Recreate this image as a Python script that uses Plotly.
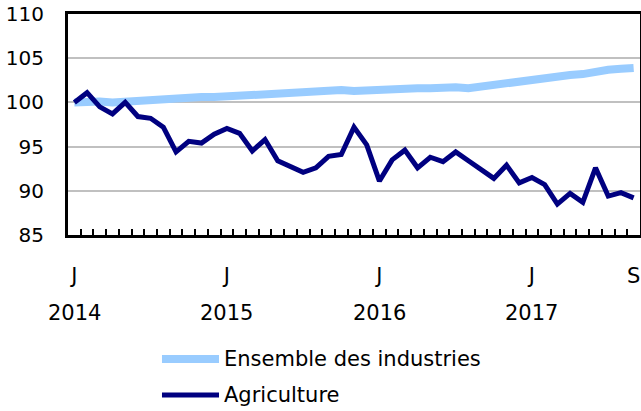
import plotly.graph_objects as go

months = list(range(45))  # Jan 2014 .. Sep 2017
ensemble = [100.0, 100.1, 100.1, 100.0, 100.1, 100.3, 100.3, 100.3, 100.5, 100.7,
            100.6, 100.6, 100.7, 100.8, 100.8, 100.8, 101.0, 101.1, 101.2, 101.3,
            101.3, 101.4, 101.3, 101.4, 101.4, 101.4, 101.5, 101.6, 101.6, 101.7,
            101.7, 101.6, 101.8, 102.1, 102.3, 102.3, 102.6, 102.9, 103.0, 103.1,
            103.2, 103.5, 103.7, 103.8, 103.9]
agriculture = [100.0, 101.1, 99.5, 98.7, 100.0, 98.4, 98.2, 97.2, 94.4, 95.6,
               95.4, 96.4, 97.05, 96.5, 94.5, 95.8, 93.4, 92.7, 92.1, 92.6,
               93.9, 94.1, 97.2, 95.2, 91.1, 93.5, 94.6, 92.6, 93.8, 93.3,
               94.4, 93.4, 92.4, 91.4, 92.9, 90.9, 91.5, 90.7, 88.5, 89.7,
               88.7, 92.6, 89.4, 89.8, 89.2]
month_tick_pos = [0, 12, 24, 36, 44]
month_tick_text = ["J", "J", "J", "J", "S"]
year_pos = [0, 12, 24, 36]
year_text = ["2014", "2015", "2016", "2017"]
series_names = ["Ensemble des industries", "Agriculture"]
series_colors = ["#99CCFF", "#000080"]
series_widths = [8, 5]

FONT = "DejaVu Sans"
FS = 21
fig = go.Figure()
for name, vals, col, w in zip(series_names, [ensemble, agriculture], series_colors, series_widths):
    fig.add_trace(go.Scatter(x=months, y=vals, mode="lines", name=name,
                             line=dict(color=col, width=w), showlegend=False))

# manual legend
leg_y = [-0.561, -0.724]
for name, col, w, yy in zip(series_names, series_colors, series_widths, leg_y):
    fig.add_shape(type="line", xref="paper", yref="paper", x0=0.1643, x1=0.264, y0=yy, y1=yy,
                  line=dict(color=col, width=w))
    fig.add_annotation(xref="paper", yref="paper", x=0.2692, y=yy, text=name, showarrow=False,
                       xanchor="left", yanchor="middle", font=dict(family=FONT, size=FS, color="#000000"))

for p, t in zip(year_pos, year_text):
    fig.add_annotation(xref="x", yref="paper", x=p, y=-0.355, text=t, showarrow=False,
                       xanchor="center", yanchor="middle", font=dict(family=FONT, size=FS, color="#000000"))

fig.update_layout(
    width=641, height=411,
    margin=dict(l=68, r=1, t=14, b=176, autoexpand=False),
    paper_bgcolor="white", plot_bgcolor="white",
    font=dict(family=FONT, size=FS, color="#000000"),
)
fig.update_xaxes(range=[-0.5, 44.5], tickmode="array", tickvals=month_tick_pos, ticktext=month_tick_text,
                 ticks="", showgrid=False, zeroline=False, automargin=False,
                 showline=True, mirror=True, linecolor="black", linewidth=3,
                 ticklabelstandoff=20,
                 minor=dict(tickmode="array", tickvals=[k - 0.5 for k in range(1, 45)],
                            ticks="inside", ticklen=6, tickwidth=2, tickcolor="black", showgrid=False))
fig.update_yaxes(range=[85, 110], tickmode="linear", tick0=85, dtick=5,
                 showgrid=True, gridcolor="#C0C0C0", gridwidth=2, zeroline=False, automargin=False,
                 showline=True, mirror=True, linecolor="black", linewidth=3,
                 tickfont=dict(size=20),
                 ticks="", ticklabelstandoff=17)
fig.write_html("out.html", config={"displayModeBar": False},
               post_script="document.body.style.margin='0';document.body.style.padding='0';")
